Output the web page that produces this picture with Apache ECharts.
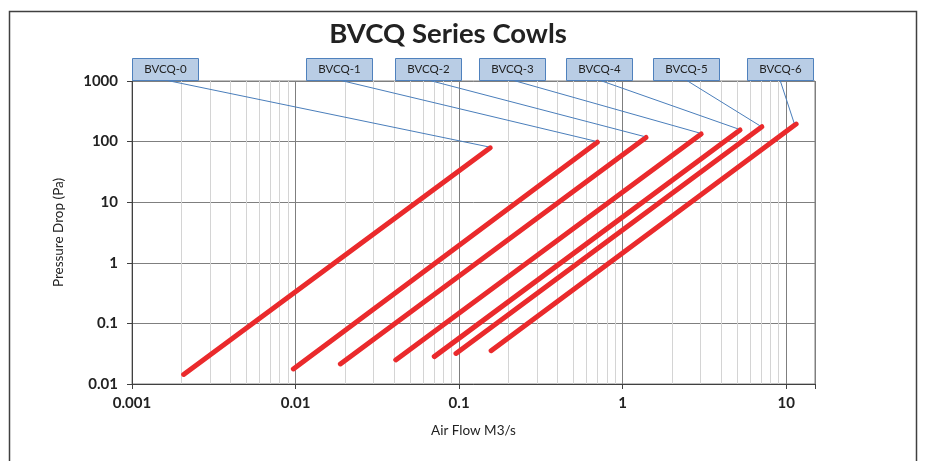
<!DOCTYPE html>
<html>
<head>
<meta charset="utf-8">
<script src="https://cdn.jsdelivr.net/npm/echarts@6/dist/echarts.min.js"></script>
<style>
html,body{margin:0;padding:0;background:#fff;}
#chart{width:925px;height:461px;}
</style>
</head>
<body>
<div id="chart"></div>
<script>
// ---- data ----
const categories = ['BVCQ-0', 'BVCQ-1', 'BVCQ-2', 'BVCQ-3', 'BVCQ-4', 'BVCQ-5', 'BVCQ-6'];
const flowStart = [0.00207, 0.0097, 0.0188, 0.041, 0.0705, 0.0957, 0.157];
const pressureStart = [0.0144, 0.0177, 0.0214, 0.025, 0.0283, 0.032, 0.0355];
const flowEnd = [0.155, 0.70, 1.39, 3.02, 5.22, 7.1, 11.5];
const pressureEnd = [79, 98, 117, 134, 156, 176, 195];
const xTickLabels = ['0.001', '0.01', '0.1', '1', '10'];
const yTickLabels = ['0.01', '0.1', '1', '10', '100', '1000'];
const minorFlow = [0.002, 0.003, 0.004, 0.005, 0.006, 0.007, 0.008, 0.009,
                   0.02, 0.03, 0.04, 0.05, 0.06, 0.07, 0.08, 0.09,
                   0.2, 0.3, 0.4, 0.5, 0.6, 0.7, 0.8, 0.9,
                   2, 3, 4, 5, 6, 7, 8, 9];

// ---- layout (pixels) ----
const boxLeft = [132, 306, 395, 479, 566, 653, 747];
const boxTop = 58, boxW = 66, boxH = 22;

const FONT = 'Lato';
function fmt(v) { return String(Number(v.toPrecision(6))); }

const chart = echarts.init(document.getElementById('chart'), null, {renderer: 'canvas'});

const series = [];
// helper series for minor gridlines
series.push({
  type: 'line', data: [], silent: true, z: 1,
  markLine: {
    silent: true, z: 1, animation: false, precision: 6,
    symbol: ['none', 'none'],
    label: {show: false},
    lineStyle: {color: '#d4d4d4', type: 'solid', width: 1},
    data: minorFlow.map(v => ({xAxis: v}))
  }
});
categories.forEach((name, i) => {
  series.push({
    name: name, type: 'line', z: 3,
    showSymbol: false, symbol: 'none',
    lineStyle: {color: '#ea2a2c', width: 5, cap: 'round'},
    data: [[flowStart[i], pressureStart[i]], [flowEnd[i], pressureEnd[i]]],
    animation: false
  });
});
// label boxes with leader lines
series.push({
  type: 'custom', z: 4, clip: false, silent: true, animation: false,
  data: categories.map((n, i) => [flowEnd[i], pressureEnd[i], i]),
  renderItem: function (params, api) {
    const i = api.value(2);
    const p = api.coord([api.value(0), api.value(1)]);
    const bx = boxLeft[i];
    return {
      type: 'group',
      children: [
        {type: 'line', shape: {x1: bx + boxW / 2, y1: boxTop + boxH, x2: p[0] - 2, y2: p[1] - 1},
         style: {stroke: '#4a7ebb', lineWidth: 1}},
        {type: 'rect', shape: {x: bx + 0.5, y: boxTop + 0.5, width: boxW, height: boxH},
         style: {fill: '#b9cde5', stroke: '#4f81bd', lineWidth: 1}},
        {type: 'text', style: {x: bx + boxW / 2 + 0.5, y: boxTop + boxH / 2 + 0.5, text: categories[i],
          align: 'center', verticalAlign: 'middle', fill: '#222', font: '11.5px ' + FONT}}
      ]
    };
  }
});

const option = {
  backgroundColor: '#fff',
  animation: false,
  graphic: [
    {type: 'rect', z: 0, shape: {x: 9.5, y: 11.5, width: 907, height: 520},
     style: {fill: 'none', stroke: '#404040', lineWidth: 1.5}, silent: true},
    {type: 'text', z: 10, style: {x: 448, y: 34, text: 'BVCQ Series Cowls', align: 'center',
      verticalAlign: 'middle', fill: '#222', font: 'bold 27.5px ' + FONT}}
  ],
  grid: {left: 132, right: 110, top: 81, bottom: 77, show: true, borderColor: '#808080', borderWidth: 1},
  xAxis: {
    type: 'log', logBase: 10, min: 0.001, max: 15,
    name: 'Air Flow M3/s', nameLocation: 'middle', nameGap: 40,
    nameTextStyle: {fontFamily: FONT, fontSize: 13.5, color: '#222'},
    axisLine: {show: true, lineStyle: {color: '#404040', width: 1}},
    axisTick: {show: true, inside: false, length: 5, lineStyle: {color: '#404040'}},
    axisLabel: {margin: 12, fontFamily: FONT, fontWeight: 'bold', fontSize: 15, color: '#222',
      formatter: v => { const s = fmt(v); return xTickLabels.indexOf(s) >= 0 ? s : ''; }},
    splitLine: {show: true, lineStyle: {color: '#7f7f7f', width: 1}},
    minorTick: {show: false}, minorSplitLine: {show: false}
  },
  yAxis: {
    type: 'log', logBase: 10, min: 0.01, max: 1000,
    name: 'Pressure Drop (Pa)', nameLocation: 'middle', nameGap: 66, nameRotate: 90,
    nameTextStyle: {fontFamily: FONT, fontSize: 13.5, color: '#222'},
    axisLine: {show: true, lineStyle: {color: '#404040', width: 1}},
    axisTick: {show: true, inside: false, length: 5, lineStyle: {color: '#404040'}},
    axisLabel: {margin: 14, fontFamily: FONT, fontWeight: 'bold', fontSize: 15, color: '#222',
      formatter: v => { const s = fmt(v); return yTickLabels.indexOf(s) >= 0 ? s : ''; }},
    splitLine: {show: true, lineStyle: {color: '#7f7f7f', width: 1}}
  },
  series: series
};
chart.setOption(option);
</script>
</body>
</html>
